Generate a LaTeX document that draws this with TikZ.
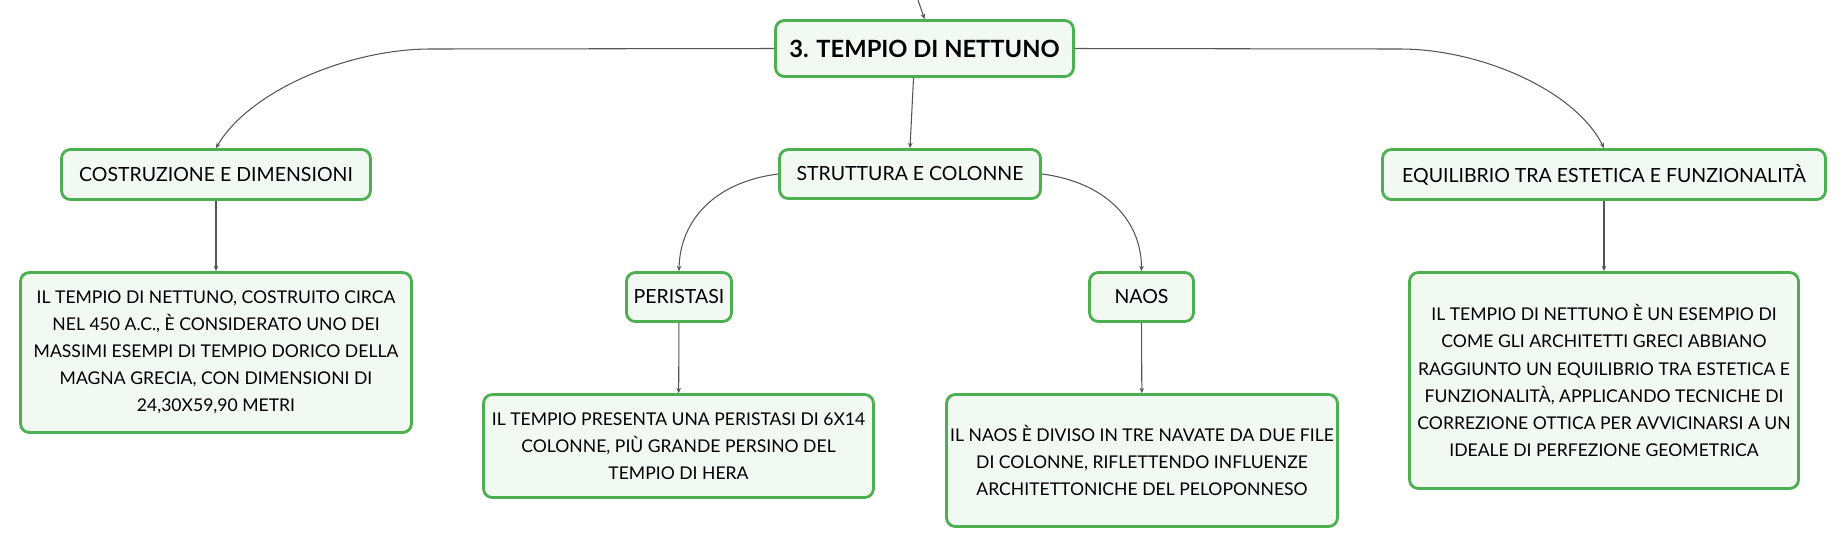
\documentclass[tikz,border=0pt]{standalone}
\usepackage{fontspec}
\setmainfont{Lato}
\usetikzlibrary{arrows.meta}
\definecolor{boxgreen}{HTML}{4CAF50}
\definecolor{boxfill}{HTML}{F2F9F2}
\definecolor{linkgray}{HTML}{555555}
\tikzset{
  box/.style={draw=boxgreen, fill=boxfill, line width=1.6pt, rounded corners=5pt, align=center, inner sep=0pt},
  topic/.style={box, font=\fontsize{11.1}{15.4}\selectfont},
  note/.style={box, font=\fontsize{10}{15.4}\selectfont},
  root/.style={box, font=\fontsize{13.5}{16}\selectfont\bfseries},
  link/.style={draw=linkgray, line width=0.6pt, -{Stealth[length=3pt,width=2.6pt]}}
}
\begin{document}
\begin{tikzpicture}[x=0.02cm, y=-0.02cm]
\useasboundingbox (0, 0) rectangle (1848, 549);
\coordinate (top) at (918, 0);
\node at (924.5, 48.5) [root, minimum width=5.96cm, minimum height=1.12cm] (tempio) {3. TEMPIO DI NETTUNO};
\node at (216, 174.5) [topic, minimum width=6.18cm, minimum height=1.0cm] (costr) {COSTRUZIONE E DIMENSIONI};
\node at (910, 174) [topic, minimum width=5.22cm, minimum height=0.98cm] (strutt) {STRUTTURA E COLONNE};
\node at (1604, 174.5) [topic, minimum width=8.86cm, minimum height=1.0cm] (equil) {EQUILIBRIO TRA ESTETICA E FUNZIONALITÀ};
\node at (216, 352.5) [note, minimum width=7.82cm, minimum height=3.2cm] (costrtxt) {IL TEMPIO DI NETTUNO, COSTRUITO CIRCA\\NEL 450 A.C., È CONSIDERATO UNO DEI\\MASSIMI ESEMPI DI TEMPIO DORICO DELLA\\MAGNA GRECIA, CON DIMENSIONI DI\\24,30X59,90 METRI};
\node at (679, 297) [topic, minimum width=2.1cm, minimum height=0.98cm] (perist) {PERISTASI};
\node at (1141.5, 297) [topic, minimum width=2.08cm, minimum height=0.98cm] (naos) {NAOS};
\node at (678.5, 446) [note, minimum width=7.8cm, minimum height=2.06cm] (peristtxt) {IL TEMPIO PRESENTA UNA PERISTASI DI 6X14\\COLONNE, PIÙ GRANDE PERSINO DEL\\TEMPIO DI HERA};
\node at (1142, 460.5) [note, minimum width=7.82cm, minimum height=2.64cm] (naostxt) {IL NAOS È DIVISO IN TRE NAVATE DA DUE FILE\\DI COLONNE, RIFLETTENDO INFLUENZE\\ARCHITETTONICHE DEL PELOPONNESO};
\node at (1604, 380.5) [note, minimum width=7.78cm, minimum height=4.32cm] (equiltxt) {IL TEMPIO DI NETTUNO È UN ESEMPIO DI\\COME GLI ARCHITETTI GRECI ABBIANO\\RAGGIUNTO UN EQUILIBRIO TRA ESTETICA E\\FUNZIONALITÀ, APPLICANDO TECNICHE DI\\CORREZIONE OTTICA PER AVVICINARSI A UN\\IDEALE DI PERFEZIONE GEOMETRICA};
\draw [link] (top) to (tempio.north);
\draw [link] (tempio.west) -- (430, 49) .. controls (350, 49) and (250, 90) .. (costr.north);
\draw [link] (tempio.east) -- (1400, 49) .. controls (1480, 49) and (1575, 90) .. (equil.north);
\draw [link] ([xshift=-0.22cm]tempio.south) to (strutt.north);
\draw [link] (strutt.west) .. controls (715, 182) and (680, 220) .. (perist.north);
\draw [link] (strutt.east) .. controls (1105, 182) and (1141.5, 220) .. (naos.north);
\draw [link] (costr) to (costrtxt);
\draw [link] (perist) to (peristtxt);
\draw [link] (naos) to (naostxt);
\draw [link] (equil) to (equiltxt);
\end{tikzpicture}
\end{document}
